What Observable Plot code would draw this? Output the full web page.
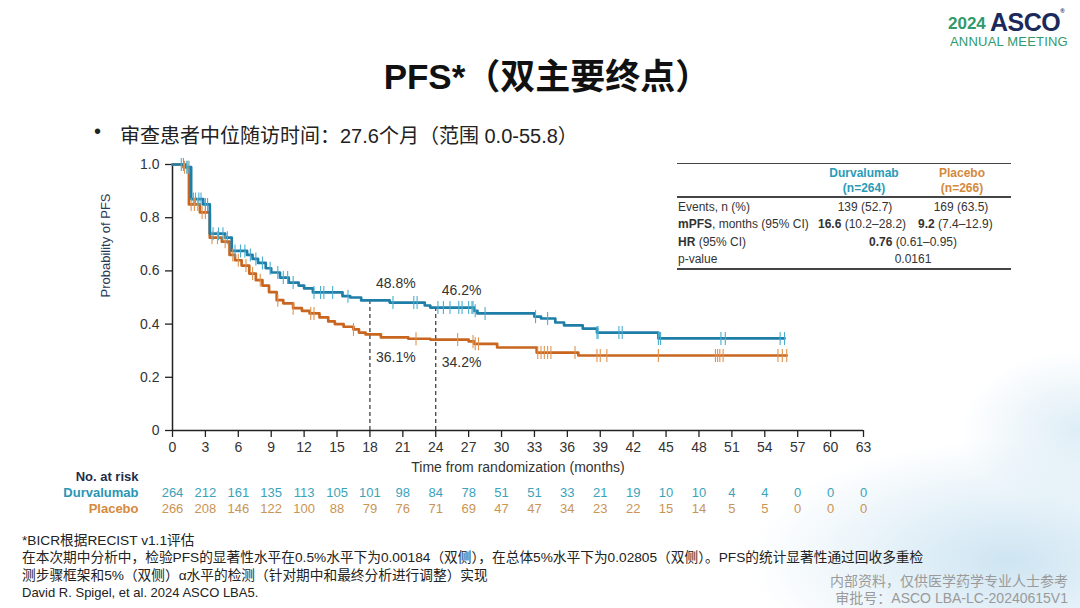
<!DOCTYPE html>
<html><head><meta charset="utf-8">
<script src="https://cdn.jsdelivr.net/npm/d3@7"></script>
<script src="https://cdn.jsdelivr.net/npm/@observablehq/plot@0.6"></script>
<style>
body{margin:0;width:1080px;height:608px;position:relative;overflow:hidden;background:#fff;font-family:"Liberation Sans",Arial,"Noto Sans CJK SC",sans-serif;color:#222}
.abs{position:absolute;white-space:nowrap}
#bg{position:absolute;left:0;top:0;width:1080px;height:608px;background:radial-gradient(ellipse 260px 120px at 1010px 560px,rgba(190,220,238,0.75),rgba(255,255,255,0) 100%),radial-gradient(ellipse 120px 80px at 1080px 430px,rgba(200,225,240,0.6),rgba(255,255,255,0) 100%)}
#chart{position:absolute;left:0;top:150px}
.tb{position:absolute;font-size:12px;color:#333;white-space:nowrap;line-height:14px}
.rule{position:absolute;left:677px;width:334px;height:1.5px;background:#444}
.foot{position:absolute;left:22px;font-size:13.7px;color:#222;white-space:nowrap;font-family:"Liberation Sans",Arial,"Noto Sans CJK SC",sans-serif}
.rf{position:absolute;right:12px;font-size:14px;color:#9a9a9a;white-space:nowrap;font-family:"Liberation Sans","Noto Sans CJK SC",sans-serif}
</style></head><body>
<div id="bg"></div>
<div class="abs" style="left:948px;top:14px;font-weight:bold;font-size:17px;color:#2f9a6c;font-family:'Liberation Sans',Arial">2024</div>
<div class="abs" style="left:990px;top:8px;font-weight:bold;font-size:25px;color:#1b2a5a;font-family:'Liberation Sans',Arial;letter-spacing:-0.5px">ASCO<span style="font-size:6px;vertical-align:top">®</span></div>
<div class="abs" style="left:950px;top:34px;font-size:13px;color:#2f9a6c;font-family:'Liberation Sans',Arial;letter-spacing:0.2px">ANNUAL MEETING</div>
<div class="abs" style="left:16px;width:1062px;text-align:center;top:48px;font-size:35px;font-weight:bold;color:#111;font-family:'Liberation Sans','Noto Sans CJK SC',sans-serif">PFS*（双主要终点）</div>
<div class="abs" style="left:94px;top:120px;font-size:20px;color:#222">•</div>
<div class="abs" style="left:120px;top:120px;font-size:20px;color:#222;font-family:'Liberation Sans','Noto Sans CJK SC',sans-serif">审查患者中位随访时间：27.6个月（范围 0.0-55.8）</div>
<div id="chart"></div>
<div id="table"></div>
<div id="footer"></div>
<script>
// ---- Kaplan–Meier step data (months, survival probability) ----
const durvaTime = [0, 1.2, 1.7, 2.8, 3.4, 4.8, 5.4, 6.8, 7.3, 7.8, 8.5, 9.0, 9.8, 10.6, 11.5, 12.0, 12.8, 15.5, 16.2, 17.2, 19.8, 23.0, 23.5, 27.5, 27.8, 33.0, 33.6, 34.9, 35.7, 37.4, 38.7, 44.3, 55.8];
const durvaSurv = [1.0, 0.99, 0.87, 0.85, 0.74, 0.725, 0.675, 0.66, 0.645, 0.63, 0.61, 0.594, 0.575, 0.556, 0.545, 0.534, 0.519, 0.505, 0.50, 0.489, 0.481, 0.470, 0.462, 0.450, 0.440, 0.428, 0.421, 0.406, 0.395, 0.383, 0.368, 0.346, 0.346];
const placeboTime = [0, 1.0, 1.5, 2.5, 3.4, 4.5, 5.2, 5.7, 6.3, 7.0, 7.6, 8.2, 8.8, 9.5, 10.1, 11.0, 11.8, 12.5, 13.4, 14.2, 14.8, 15.6, 16.5, 17.0, 17.6, 19.0, 21.5, 23.5, 27.0, 27.5, 29.6, 33.2, 37.0, 56.0];
const placeboSurv = [1.0, 0.99, 0.85, 0.82, 0.725, 0.71, 0.66, 0.64, 0.62, 0.59, 0.565, 0.545, 0.52, 0.49, 0.478, 0.46, 0.45, 0.44, 0.425, 0.41, 0.40, 0.39, 0.38, 0.368, 0.361, 0.35, 0.345, 0.342, 0.335, 0.326, 0.312, 0.293, 0.282, 0.282];
// censoring times
const durvaCensor = [0.8, 1.0, 1.3, 1.5, 1.9, 2.1, 2.4, 2.6, 3.0, 3.2, 3.7, 4.2, 4.6, 5.0, 5.7, 6.2, 6.6, 7.1, 7.6, 8.2, 8.9, 9.6, 10.1, 10.5, 11.0, 12.9, 13.5, 13.8, 14.6, 16.0, 20.1, 22.0, 22.3, 24.2, 24.7, 25.3, 26.1, 26.4, 27.0, 27.3, 27.4, 27.6, 28.5, 33.1, 34.2, 38.7, 38.8, 40.7, 41.0, 44.3, 44.5, 50.0, 50.4, 55.4, 55.8];
const placeboCensor = [1.1, 1.4, 1.7, 2.0, 2.3, 2.7, 3.0, 3.6, 4.1, 4.8, 5.5, 6.0, 6.7, 7.3, 8.0, 9.6, 11.0, 12.6, 12.9, 16.5, 22.2, 26.0, 27.4, 27.6, 27.9, 33.3, 33.6, 33.9, 34.2, 34.5, 36.7, 38.7, 39.0, 39.6, 44.3, 49.5, 49.7, 49.9, 50.2, 55.2, 55.6, 56.0];
// landmark annotations
const landmarkTimes = [18, 24];
const landmarkDurva = [0.488, 0.462];
const landmarkPlacebo = [0.361, 0.342];
// axes
const xTicks = d3.range(0, 64, 3);
const yTicks = [0, 0.2, 0.4, 0.6, 0.8, 1.0];
// at-risk table
const riskTimes = d3.range(0, 64, 3);
const riskDurva = [264, 212, 161, 135, 113, 105, 101, 98, 84, 78, 51, 51, 33, 21, 19, 10, 10, 4, 4, 0, 0, 0];
const riskPlacebo = [266, 208, 146, 122, 100, 88, 79, 76, 71, 69, 47, 47, 34, 23, 22, 15, 14, 5, 5, 0, 0, 0];
// summary table
const tableArms = ["Durvalumab", "Placebo"];
const tableN = ["(n=264)", "(n=266)"];
const tableEvents = ["139 (52.7)", "169 (63.5)"];
const tableMedian = ["16.6", "9.2"];
const tableMedianCI = ["(10.2–28.2)", "(7.4–12.9)"];
const tableHR = ["0.76", "(0.61–0.95)"];
const tableP = "0.0161";

const BLUE = "#1f7ea8", BLUE_C = "#4aaed0", ORANGE = "#c8661f", ORANGE_C = "#e0934f";
const zip = (ts, ss) => ts.map((t, i) => ({t, s: ss[i]}));
const durva = zip(durvaTime, durvaSurv);
const placebo = zip(placeboTime, placeboSurv);
const survAt = (ts, ss, t) => { let s = 1; ts.forEach((x, i) => { if (x <= t) s = ss[i]; }); return s; };
const dC = durvaCensor.map(t => ({t, s: survAt(durvaTime, durvaSurv, t)}));
const pC = placeboCensor.map(t => ({t, s: survAt(placeboTime, placeboSurv, t)}));
const vbar = {draw(ctx, size) { const r = Math.sqrt(size / Math.PI); ctx.moveTo(0, -r); ctx.lineTo(0, r); }};
const lmD = landmarkTimes.map((t, i) => ({t, v: landmarkDurva[i], label: (landmarkDurva[i] * 100).toFixed(1) + "%"}));
const lmP = landmarkTimes.map((t, i) => ({t, v: landmarkPlacebo[i], label: (landmarkPlacebo[i] * 100).toFixed(1) + "%"}));

const chart = Plot.plot({
  width: 1080, height: 370,
  marginLeft: 172, marginRight: 217, marginTop: 14, marginBottom: 90,
  style: {fontFamily: "Liberation Sans, Arial, sans-serif", fontSize: "14px", color: "#333", background: "transparent", overflow: "visible"},
  x: {domain: [0, 63]},
  y: {domain: [0, 1]},
  marks: [
    Plot.axisX({ticks: xTicks, tickSize: 7, tickPadding: 5, label: null, stroke: "#222", strokeWidth: 1.3, fontSize: 14}),
    Plot.axisY({ticks: yTicks, tickFormat: d => d === 0 ? "0" : d.toFixed(1), tickSize: 7, tickPadding: 6, label: null, stroke: "#222", strokeWidth: 1.3, fontSize: 14}),
    Plot.ruleY([0], {stroke: "#222", strokeWidth: 1.5}),
    Plot.ruleX([0], {y1: 0, y2: 1, stroke: "#222", strokeWidth: 1.5}),
    Plot.ruleX(lmD, {x: "t", y1: 0, y2: "v", stroke: "#333", strokeDasharray: "4,3", strokeWidth: 1.2}),
    Plot.line(placebo, {x: "t", y: "s", curve: "step-after", stroke: ORANGE, strokeWidth: 2.7}),
    Plot.line(durva, {x: "t", y: "s", curve: "step-after", stroke: BLUE, strokeWidth: 2.7}),
    Plot.dot(pC, {x: "t", y: "s", symbol: vbar, r: 6.5, stroke: ORANGE_C, strokeWidth: 1.1, fill: "none"}),
    Plot.dot(dC, {x: "t", y: "s", symbol: vbar, r: 6.5, stroke: BLUE_C, strokeWidth: 1.1, fill: "none"}),
    Plot.text(lmD, {x: "t", y: "v", text: "label", dx: 6, dy: -17, textAnchor: "start", fill: "#333", fontSize: 14}),
    Plot.text(lmP, {x: "t", y: "v", text: "label", dx: 6, dy: 23, textAnchor: "start", fill: "#333", fontSize: 14}),
    Plot.text(["Time from randomization (months)"], {frameAnchor: "bottom", dy: 41, fill: "#333", fontSize: 14}),
    Plot.text(["Probability of PFS"], {frameAnchor: "left", rotate: -90, dx: -67, fill: "#2b3a55", fontSize: 13}),
    Plot.text(["No. at risk"], {frameAnchor: "bottom-left", dx: -34, dy: 50, textAnchor: "end", fontWeight: "bold", fill: "#1f2d4d", fontSize: 13}),
    Plot.text([tableArms[0]], {frameAnchor: "bottom-left", dx: -34, dy: 66, textAnchor: "end", fontWeight: "bold", fill: "#2a95b5", fontSize: 13}),
    Plot.text([tableArms[1]], {frameAnchor: "bottom-left", dx: -34, dy: 82, textAnchor: "end", fontWeight: "bold", fill: "#d5893d", fontSize: 13}),
    Plot.text(riskTimes, {x: d => d, text: (d, i) => riskDurva[i], frameAnchor: "bottom", dy: 66, fill: "#3aa3bb", fontSize: 13}),
    Plot.text(riskTimes, {x: d => d, text: (d, i) => riskPlacebo[i], frameAnchor: "bottom", dy: 82, fill: "#c99455", fontSize: 13})
  ]
});
document.getElementById("chart").appendChild(chart);

// summary table (HTML overlay)
const tb = document.getElementById("table");
const add = (html, style) => { const d = document.createElement("div"); d.className = "tb"; d.innerHTML = html; Object.assign(d.style, style); tb.appendChild(d); return d; };
const rule = top => { const d = document.createElement("div"); d.className = "rule"; d.style.top = top + "px"; tb.appendChild(d); };
rule(162.5); rule(196); rule(268);
const center = (html, cx, cy, extra = {}) => add(html, Object.assign({left: (cx - 100) + "px", width: "200px", textAlign: "center", top: (cy - 7) + "px"}, extra));
center(tableArms[0], 864, 173, {fontWeight: "bold", color: "#2a9bb7"});
center(tableN[0], 864, 188, {fontWeight: "bold", color: "#2a9bb7"});
center(tableArms[1], 962, 173, {fontWeight: "bold", color: "#d4893d"});
center(tableN[1], 962, 188, {fontWeight: "bold", color: "#d4893d"});
add("Events, n (%)", {left: "678px", top: "200px"});
add("<b>mPFS</b>, months (95% CI)", {left: "678px", top: "217px"});
add("<b>HR</b> (95% CI)", {left: "678px", top: "235px"});
add("p-value", {left: "678px", top: "252px"});
center(tableEvents[0], 865, 207);
center(tableEvents[1], 961, 207);
add(`<b>${tableMedian[0]}</b> ${tableMedianCI[0]}`, {left: "818px", top: "217px"});
add(`<b>${tableMedian[1]}</b> ${tableMedianCI[1]}`, {left: "918px", top: "217px"});
center(`<b>${tableHR[0]}</b> ${tableHR[1]}`, 913, 242);
center(tableP, 913, 259);

// footer
const ft = document.getElementById("footer");
const footLines = ["*BICR根据RECIST v1.1评估", "在本次期中分析中，检验PFS的显著性水平在0.5%水平下为0.00184（双侧），在总体5%水平下为0.02805（双侧）。PFS的统计显著性通过回收多重检", "测步骤框架和5%（双侧）α水平的检测（针对期中和最终分析进行调整）实现", "David R. Spigel, et al. 2024 ASCO LBA5."];
const footTops = [529, 546, 564, 585];
footLines.forEach((t, i) => { const d = document.createElement("div"); d.className = "foot"; d.textContent = t; d.style.top = footTops[i] + "px"; if (i === 3) d.style.fontSize = "13px"; ft.appendChild(d); });
const rightLines = ["内部资料，仅供医学药学专业人士参考", "审批号：ASCO LBA-LC-20240615V1"];
[570, 587].forEach((top, i) => { const d = document.createElement("div"); d.className = "rf"; d.textContent = rightLines[i]; d.style.top = top + "px"; ft.appendChild(d); });
</script>
</body></html>
